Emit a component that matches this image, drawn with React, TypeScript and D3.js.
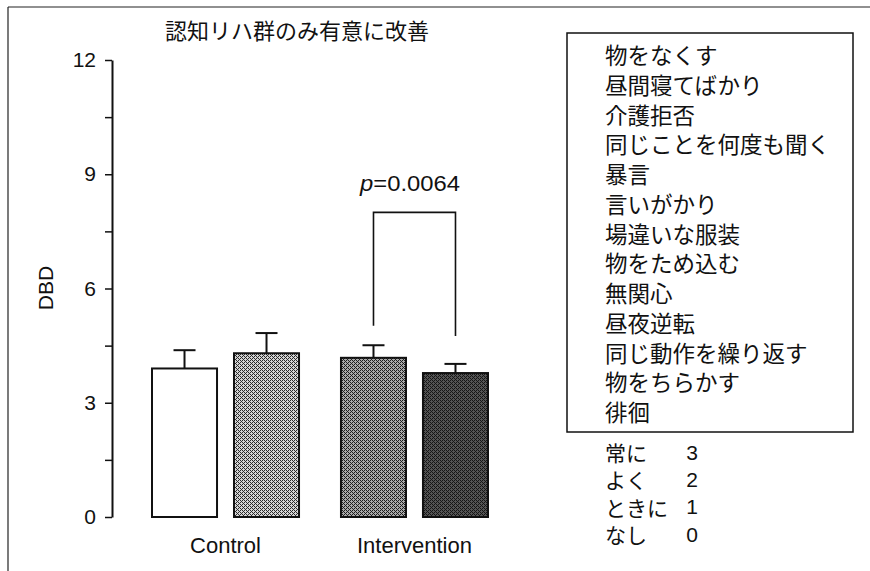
import * as d3 from "d3";
import { useEffect, useRef } from "react";

const groups = ["Control", "Intervention"];
const series = ["pre", "post"];
// mean DBD per group: [pre, post]
const meanValues = [
  [3.9, 4.3],
  [4.18, 3.78],
];
// error bar (SE) per group
const errorValues = [
  [0.48, 0.53],
  [0.33, 0.24],
];
const yTicks = [0, 1.5, 3, 4.5, 6, 7.5, 9, 10.5, 12];
const yLabels = [0, 3, 6, 9, 12];
// significance bracket: top, left leg end, right leg end
const bracketTop = 8;
const bracketEnds = [5.02, 4.75];
const pLabel = "=0.0064";
const title = "認知リハ群のみ有意に改善";
const items = [
  "物をなくす",
  "昼間寝てばかり",
  "介護拒否",
  "同じことを何度も聞く",
  "暴言",
  "言いがかり",
  "場違いな服装",
  "物をため込む",
  "無関心",
  "昼夜逆転",
  "同じ動作を繰り返す",
  "物をちらかす",
  "徘徊",
];
const scaleWords = ["常に", "よく", "ときに", "なし"];
const scaleScores = [3, 2, 1, 0];

const latin = "'Liberation Sans', Arial, sans-serif";
const cjk = "'Noto Sans CJK JP', sans-serif";

const App = () => {
  const ref = useRef<SVGSVGElement>(null);

  useEffect(() => {
    const svg = d3.select(ref.current);
    svg.selectAll("*").remove();
    const width = 870;
    const height = 571;
    svg.attr("width", width).attr("height", height);

    // halftone-ish fills
    const defs = svg.append("defs");
    const fills = [
      { id: "f0", bg: "#ffffff", dot: null as string | null },
      { id: "f1", bg: "#d4d4d4", dot: "#2a2a2a" },
      { id: "f2", bg: "#a9a9a9", dot: "#1e1e1e" },
      { id: "f3", bg: "#555555", dot: "#161616" },
    ];
    fills.forEach((f) => {
      const p = defs
        .append("pattern")
        .attr("id", f.id)
        .attr("patternUnits", "userSpaceOnUse")
        .attr("width", 4)
        .attr("height", 4);
      p.append("rect").attr("width", 4).attr("height", 4).attr("fill", f.bg);
      if (f.dot) {
        [[0, 0], [1, 1], [2, 2], [3, 3], [2, 0], [0, 2]].forEach(([px, py]) =>
          p.append("rect").attr("x", px).attr("y", py).attr("width", 1).attr("height", 1).attr("fill", f.dot!)
        );
      }
    });

    // outer frame
    svg.append("line").attr("x1", 8).attr("x2", 870).attr("y1", 7).attr("y2", 7)
      .attr("stroke", "#222").attr("stroke-width", 1.2);
    svg.append("line").attr("x1", 8).attr("x2", 8).attr("y1", 7).attr("y2", 571)
      .attr("stroke", "#222").attr("stroke-width", 1.2);

    const y = d3.scaleLinear().domain([0, 12]).range([517, 60]);
    const x0 = d3.scaleBand().domain(groups).range([152, 488]).paddingInner(0.222);
    const x1 = d3.scaleBand().domain(series).range([0, x0.bandwidth()]).paddingInner(0.207);

    // y axis
    const axis = svg
      .append("g")
      .attr("transform", "translate(112,0)")
      .call(
        d3.axisLeft(y)
          .tickValues(yTicks)
          .tickSize(7)
          .tickSizeOuter(0)
          .tickPadding(9)
          .tickFormat((d) => (yLabels.includes(+d) ? String(d) : ""))
      );
    axis.select(".domain").attr("stroke", "#111").attr("stroke-width", 2);
    axis.selectAll(".tick line").attr("stroke", "#111").attr("stroke-width", 1.5);
    axis.selectAll(".tick text").attr("font-family", latin).attr("font-size", 21).attr("fill", "#111");

    svg.append("text")
      .attr("transform", "translate(53,288) rotate(-90)")
      .attr("text-anchor", "middle")
      .attr("font-family", latin)
      .attr("font-size", 21)
      .attr("fill", "#111")
      .text("DBD");

    svg.append("text")
      .attr("x", 165).attr("y", 29)
      .attr("dominant-baseline", "central")
      .attr("font-family", cjk).attr("font-size", 22).attr("fill", "#111")
      .text(title);

    // bars
    groups.forEach((g, gi) => {
      series.forEach((s, si) => {
        const bx = x0(g)! + x1(s)!;
        const v = meanValues[gi][si];
        const e = errorValues[gi][si];
        const cx = bx + x1.bandwidth() / 2;
        svg.append("line").attr("x1", cx).attr("x2", cx).attr("y1", y(v)).attr("y2", y(v + e))
          .attr("stroke", "#111").attr("stroke-width", 2);
        svg.append("line").attr("x1", cx - 11).attr("x2", cx + 11).attr("y1", y(v + e)).attr("y2", y(v + e))
          .attr("stroke", "#111").attr("stroke-width", 2);
        svg.append("rect")
          .attr("x", bx).attr("y", y(v))
          .attr("width", x1.bandwidth()).attr("height", y(0) - y(v))
          .attr("fill", `url(#f${gi * 2 + si})`)
          .attr("stroke", "#111").attr("stroke-width", 2);
      });
      svg.append("text")
        .attr("x", x0(g)! + x0.bandwidth() / 2).attr("y", 553)
        .attr("text-anchor", "middle")
        .attr("font-family", latin).attr("font-size", 22).attr("fill", "#111")
        .text(g);
    });

    // significance bracket over intervention pre/post
    const bl = x0("Intervention")! + x1("pre")! + x1.bandwidth() / 2;
    const br = x0("Intervention")! + x1("post")! + x1.bandwidth() / 2;
    svg.append("path")
      .attr("d", `M${bl},${y(bracketEnds[0])}V${y(bracketTop)}H${br}V${y(bracketEnds[1])}`)
      .attr("fill", "none").attr("stroke", "#111").attr("stroke-width", 1.6);
    const pt = svg.append("text")
      .attr("x", 360).attr("y", 191)
      .attr("textLength", 100)
      .attr("lengthAdjust", "spacingAndGlyphs")
      .attr("font-family", latin).attr("font-size", 22).attr("fill", "#111");
    pt.append("tspan").attr("font-style", "italic").text("p");
    pt.append("tspan").text(pLabel);

    // legend box of items
    svg.append("rect")
      .attr("x", 567).attr("y", 33).attr("width", 286).attr("height", 399)
      .attr("fill", "none").attr("stroke", "#111").attr("stroke-width", 1.5);
    const itemY = d3.scalePoint().domain(items).range([54, 411]);
    svg.append("g")
      .selectAll("text")
      .data(items)
      .join("text")
      .attr("x", 605)
      .attr("y", (d) => itemY(d)!)
      .attr("dominant-baseline", "central")
      .attr("font-family", cjk).attr("font-size", 22.5).attr("fill", "#111")
      .text((d) => d);

    // frequency scale
    const sy = d3.scalePoint().domain(scaleWords).range([452, 534]);
    scaleWords.forEach((w, i) => {
      svg.append("text")
        .attr("x", 605).attr("y", sy(w)!)
        .attr("dominant-baseline", "central")
        .attr("font-family", cjk).attr("font-size", 21).attr("fill", "#111")
        .text(w);
      svg.append("text")
        .attr("x", 692).attr("y", sy(w)!)
        .attr("dominant-baseline", "central")
        .attr("text-anchor", "middle")
        .attr("font-family", latin).attr("font-size", 21).attr("fill", "#111")
        .text(scaleScores[i]);
    });
  }, []);

  return (
    <div style={{ position: "absolute", left: 0, top: 0, background: "#fff" }}>
      <svg ref={ref} style={{ display: "block" }}></svg>
    </div>
  );
};

export default App;
